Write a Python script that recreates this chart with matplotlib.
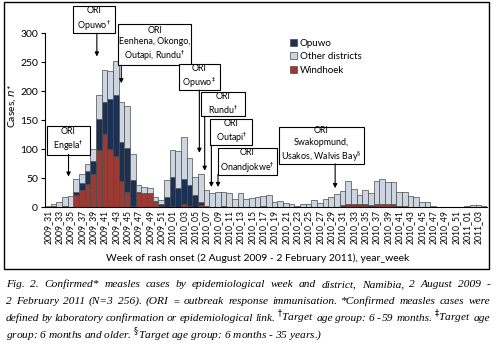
import numpy as np
import matplotlib
matplotlib.use("Agg")
import matplotlib.pyplot as plt
from matplotlib.patches import Rectangle, Patch

# weeks 2009_31 .. 2011_04
weeks = ([f"2009_{w:02d}" for w in range(31, 53)] +
         [f"2010_{w:02d}" for w in range(1, 53)] +
         [f"2011_{w:02d}" for w in range(1, 5)])

windhoek = [0, 1, 0, 3, 0, 21, 30, 40, 57, 98, 126, 100, 88, 45, 26, 3,
            25, 24, 24, 10, 3, 1,
            2, 0, 5, 3, 1, 4, 1, 0, 0, 3, 0, 0, 0, 0, 0, 0, 2, 0, 0, 0,
            0, 0, 0, 0, 0, 0, 0, 0, 0, 1, 3, 4, 4, 4, 4, 3, 5, 5, 5, 4,
            2, 1, 0, 0, 0, 0, 0, 0, 0, 0, 0, 0,
            0, 0, 0, 0]
opuwo = [0, 1, 0, 0, 0, 6, 12, 22, 22, 55, 55, 87, 105, 68, 76, 44,
         2, 1, 1, 1, 2, 17,
         50, 34, 43, 35, 20, 5, 2, 0, 0, 0, 0, 0, 0, 0, 0, 0, 0, 0, 0, 0,
         0, 0, 0, 0, 0, 0, 0, 0, 0, 0, 1, 1, 1, 1, 1, 1, 1, 1, 1, 1,
         1, 1, 1, 1, 0, 0, 0, 0, 0, 0, 0, 0,
         0, 0, 0, 0]
other = [3, 4, 10, 14, 20, 22, 16, 12, 22, 41, 56, 48, 60, 68, 72, 45,
         11, 10, 8, 7, 7, 29,
         47, 63, 73, 47, 32, 48, 26, 24, 27, 23, 24, 15, 24, 15, 16, 18, 17, 22, 9, 11,
         7, 5, 3, 6, 6, 13, 7, 14, 17, 22, 24, 40, 26, 16, 24, 20, 39, 42, 38, 38,
         24, 25, 19, 17, 9, 9, 2, 0, 0, 0, 0, 0,
         2, 4, 4, 2]

# ORI annotations: text, box centre (x, y), box size (w, h), arrow x, arrow start y, arrow tip y
ori_notes = [
    ("ORI\nEngela$^{\\dagger}$", (3.65, 116), (7.6, 50), 3.65, 91, 53),
    ("ORI\nOpuwo$^{\\dagger}$", (8.1, 324), (7.4, 47), 8.65, 300, 260),
    ("ORI\nEenhena, Okongo,\nOutapi, Rundu$^{\\dagger}$", (18.85, 281), (13.0, 71), 12.96, 245, 214),
    ("ORI\nOpuwo$^{\\ddagger}$", (26.7, 225), (7.2, 45), 26.74, 202, 94),
    ("ORI\nRundu$^{\\dagger}$", (30.9, 178), (7.65, 42), 27.68, 157, 63),
    ("ORI\nOutapi$^{\\dagger}$", (32.4, 130), (7.4, 45), 28.86, 107, 35),
    ("ORI\nOnandjokwe$^{\\dagger}$", (35.2, 79), (10.5, 45), 30.03, 57, 35),
    ("ORI\nSwakopmund,\nUsakos, Walvis Bay$^{\\S}$", (48.3, 107), (15.0, 64), 50.7, 75, 33),
]

caption_lines = [
    "Fig. 2. Confirmed* measles cases by epidemiological week and district, Namibia, 2 August 2009 -",
    "2 February 2011 (N=3 256). (ORI = outbreak response immunisation. *Confirmed measles cases were",
    "defined by laboratory confirmation or epidemiological link. $^{\\dagger}$Target age group: 6 - 59 months. $^{\\ddagger}$Target age",
    "group: 6 months and older. $^{\\S}$Target age group: 6 months - 35 years.)",
]

plt.rcParams['font.family'] = ['Lato', 'DejaVu Sans']

c_windhoek = '#9a3a33'
c_opuwo = '#1b3052'
c_other = '#cdd6e0'
c_edge = '#4a4a4a'

fig = plt.figure(figsize=(5.03, 3.46), dpi=100)
ax = fig.add_axes([45 / 503, 1 - 207.3 / 346, 442 / 503, 174 / 346])

x = np.arange(len(weeks))
w_arr = np.array(windhoek)
o_arr = np.array(opuwo)
ot_arr = np.array(other)
ax.bar(x, w_arr, width=1.0, color=c_windhoek, edgecolor=c_edge, linewidth=0.5, label='Windhoek')
ax.bar(x, o_arr, width=1.0, bottom=w_arr, color=c_opuwo, edgecolor=c_edge, linewidth=0.5, label='Opuwo')
ax.bar(x, ot_arr, width=1.0, bottom=w_arr + o_arr, color=c_other, edgecolor=c_edge,
       linewidth=0.5, label='Other districts')

ax.set_xlim(-0.5, len(weeks) - 0.5)
ax.set_ylim(0, 300)
ax.set_yticks(range(0, 301, 50))
ax.set_xticks(x[::2])
ax.set_xticklabels(weeks[::2], rotation=90, fontsize=6.2)
ax.tick_params(axis='x', length=0, pad=2)
ax.tick_params(axis='y', labelsize=7.5, length=3, width=0.8, pad=2)
for s in ['top', 'right']:
    ax.spines[s].set_visible(False)
ax.spines['left'].set_linewidth(0.8)
ax.spines['bottom'].set_linewidth(0.8)

ax.set_ylabel('Cases, $n$*', fontsize=7.5)
ax.yaxis.set_label_coords(-0.06, 0.58)
ax.set_xlabel('Week of rash onset (2 August 2009 - 2 February 2011), year_week', fontsize=7.5)
ax.xaxis.set_label_coords(0.48, -0.265)

for text, (cx, cy), (bw, bh), arx, ys, yt in ori_notes:
    ax.add_patch(Rectangle((cx - bw / 2, cy - bh / 2), bw, bh, facecolor='white',
                           edgecolor='black', linewidth=0.8, clip_on=False, zorder=5))
    ax.text(cx, cy, text, ha='center', va='center', fontsize=6.4, linespacing=1.3,
            zorder=6, clip_on=False)
    ax.annotate('', xy=(arx, yt), xytext=(arx, ys),
                arrowprops=dict(arrowstyle='-|>', lw=0.8, color='black',
                                mutation_scale=6, shrinkA=0, shrinkB=0),
                annotation_clip=False, zorder=6)

handles = [Patch(facecolor=c_opuwo, edgecolor=c_edge, lw=0.5, label='Opuwo'),
           Patch(facecolor=c_other, edgecolor=c_edge, lw=0.5, label='Other districts'),
           Patch(facecolor=c_windhoek, edgecolor=c_edge, lw=0.5, label='Windhoek')]
fig.legend(handles=handles, loc='upper left', bbox_to_anchor=(286 / 503, 1 - 35 / 346),
           frameon=False, fontsize=7, handlelength=0.7, handleheight=0.7,
           handletextpad=0.3, labelspacing=0.45, borderaxespad=0)

# frame around the chart
fig.patches.append(Rectangle((4 / 503, 1 - 269 / 346), 485 / 503, 267 / 346,
                             transform=fig.transFigure, fill=False,
                             edgecolor='black', linewidth=1.0))

# caption, justified
renderer = fig.canvas.get_renderer()
cap_kw = dict(family='Liberation Serif', style='italic', fontsize=8.2)
left_px, right_px = 6, 490
base_y = [287, 304, 321, 338]
for k, line in enumerate(caption_lines):
    words = line.split(' ')
    ypos = 1 - base_y[k] / 346
    if k == len(caption_lines) - 1:
        fig.text(left_px / 503, ypos, line, ha='left', va='baseline', **cap_kw)
        continue
    widths = []
    for wd in words:
        t = fig.text(0, 0, wd, **cap_kw)
        widths.append(t.get_window_extent(renderer).width)
        t.remove()
    gap = max((right_px - left_px - sum(widths)) / (len(words) - 1), 1.5)
    xp = left_px
    for wd, wv in zip(words, widths):
        fig.text(xp / 503, ypos, wd, ha='left', va='baseline', **cap_kw)
        xp += wv + gap

fig.savefig('out.png', dpi=100)
